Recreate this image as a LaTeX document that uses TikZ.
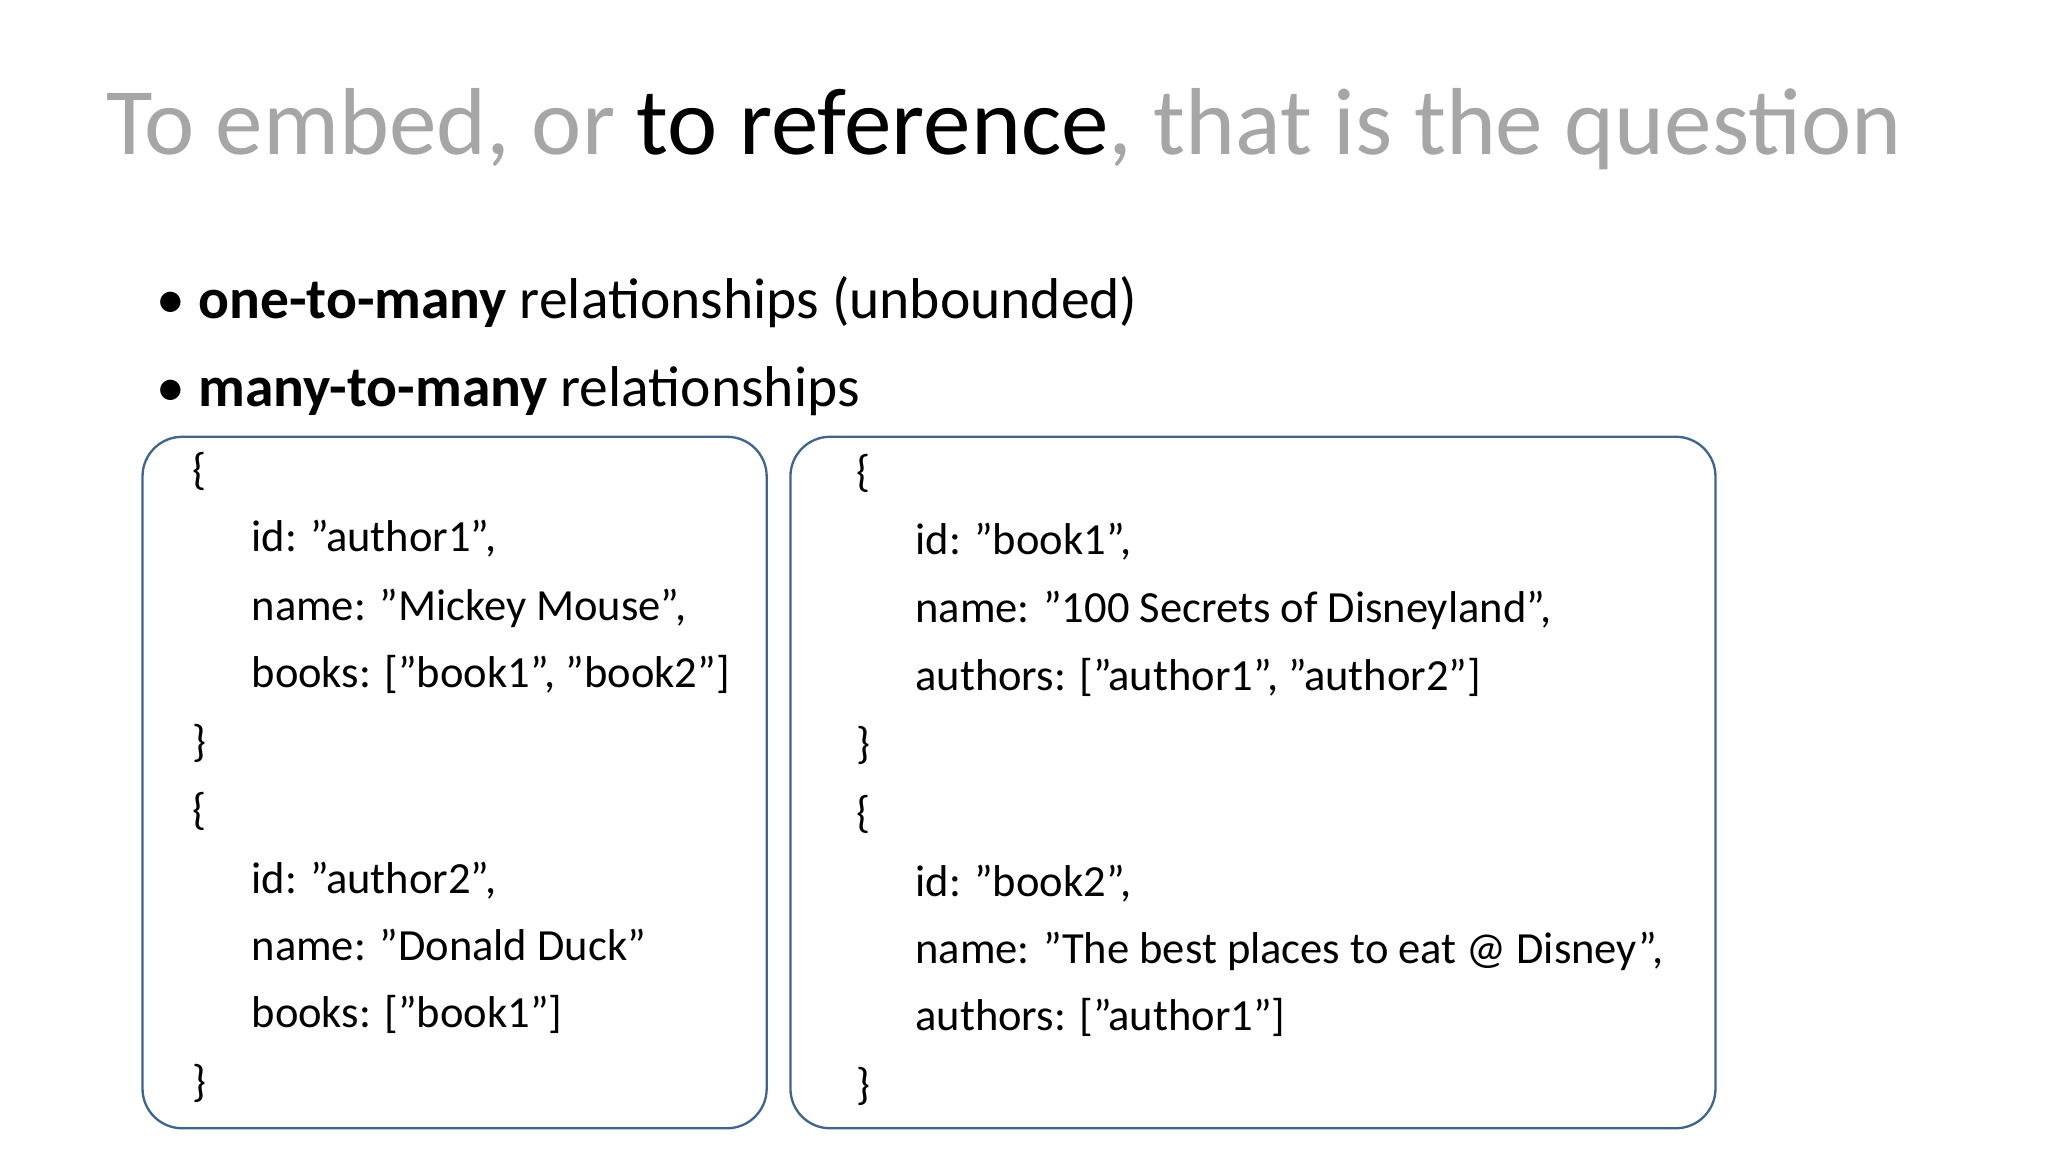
\documentclass[tikz,border=0pt]{standalone}
\usepackage{fontspec}
\setmainfont{Carlito}
\usepackage{xcolor}
\definecolor{titlegray}{HTML}{A6A6A6}
\definecolor{boxblue}{HTML}{41648C}
\tikzset{
    code/.style={anchor=base west, inner sep=0pt, font=\fontsize{9.6}{11}\selectfont},
    docbox/.style={draw=boxblue, line width=0.5pt, rounded corners=0.3cm},
}

\begin{document}
\begin{tikzpicture}[x=0.01cm, y=-0.01cm]
    \useasboundingbox[fill=white] (0,0) rectangle (1552,873);
    \node[anchor=base west, inner sep=0pt, font=\fontsize{20.5}{24}\selectfont, text=titlegray] (title) at (80,117)
        {To embed, or \textcolor{black}{to reference}, that is the question};

    \node[anchor=base west, inner sep=0pt, font=\fontsize{12.4}{15}\selectfont] (bullet1) at (118,241)
        {\textbullet\ \textbf{one-to-many} relationships (unbounded)};
    \node[anchor=base west, inner sep=0pt, font=\fontsize{12.4}{15}\selectfont] (bullet2) at (118,308)
        {\textbullet\ \textbf{many-to-many} relationships};

    % authors
    \draw[docbox] (108,331) rectangle (581,855);
    \node[code] (a-open1) at (145,367) {\{};
    \node[code] (a-id1) at (190,418) {id: "author1",};
    \node[code] (a-name1) at (190,470) {name: "Mickey Mouse",};
    \node[code] (a-books1) at (190,521) {books: ["book1", "book2"]};
    \node[code] (a-close1) at (145,573) {\}};
    \node[code] (a-open2) at (145,625) {\{};
    \node[code] (a-id2) at (190,677) {id: "author2",};
    \node[code] (a-name2) at (190,728) {name: "Donald Duck"};
    \node[code] (a-books2) at (190,779) {books: ["book1"]};
    \node[code] (a-close2) at (145,831) {\}};

    % books
    \draw[docbox] (599,331) rectangle (1300,855);
    \node[code] (b-open1) at (648,369) {\{};
    \node[code] (b-id1) at (693,420) {id: "book1",};
    \node[code] (b-name1) at (693,472) {name: "100 Secrets of Disneyland",};
    \node[code] (b-authors1) at (693,523) {authors: ["author1", "author2"]};
    \node[code] (b-close1) at (648,575) {\}};
    \node[code] (b-open2) at (648,627) {\{};
    \node[code] (b-id2) at (693,679) {id: "book2",};
    \node[code] (b-name2) at (693,730) {name: "The best places to eat @ Disney”,};
    \node[code] (b-authors2) at (693,781) {authors: ["author1"]};
    \node[code] (b-close2) at (648,833) {\}};
\end{tikzpicture}
\end{document}
